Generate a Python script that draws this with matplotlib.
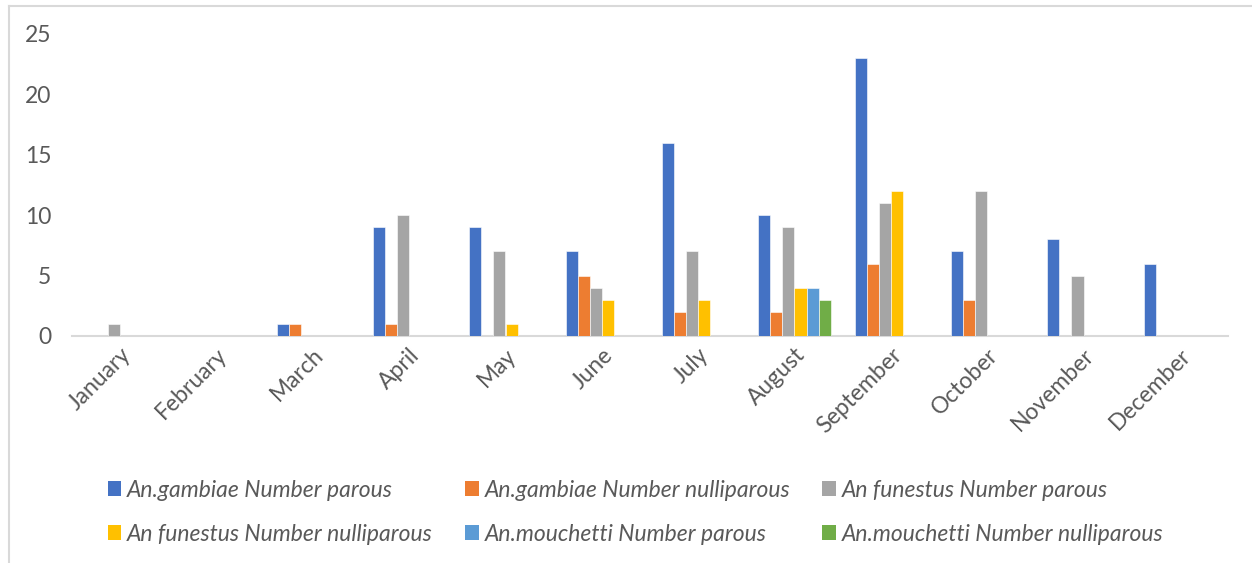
import numpy as np
import matplotlib
matplotlib.use("Agg")
import matplotlib.pyplot as plt
from matplotlib.lines import Line2D
from matplotlib.patches import Patch

# conteggi mensili di zanzare parous / nulliparous
mesi = ["January", "February", "March", "April", "May", "June", "July",
        "August", "September", "October", "November", "December"]

gambiae_parous = [0, 0, 1, 9, 9, 7, 16, 10, 23, 7, 8, 6]
gambiae_nulli = [0, 0, 1, 1, 0, 5, 2, 2, 6, 3, 0, 0]
funestus_parous = [1, 0, 0, 10, 7, 4, 7, 9, 11, 12, 5, 0]
funestus_nulli = [0, 0, 0, 0, 1, 3, 3, 4, 12, 0, 0, 0]
mouchetti_parous = [0, 0, 0, 0, 0, 0, 0, 4, 0, 0, 0, 0]
mouchetti_nulli = [0, 0, 0, 0, 0, 0, 0, 3, 0, 0, 0, 0]

serie = [gambiae_parous, gambiae_nulli, funestus_parous,
         funestus_nulli, mouchetti_parous, mouchetti_nulli]
nomi = ["An.gambiae Number parous", "An.gambiae Number nulliparous",
        "An funestus Number parous", "An funestus Number nulliparous",
        "An.mouchetti Number parous", "An.mouchetti Number nulliparous"]
colori = ["#4472C4", "#ED7D31", "#A5A5A5", "#FFC000", "#5B9BD5", "#70AD47"]

plt.rcParams["font.family"] = ["Lato", "DejaVu Sans"]
grigio = "#595959"

fig = plt.figure(figsize=(12.52, 5.63), dpi=100)
ax = fig.add_axes([72 / 1252, 1 - 336 / 563, (1228 - 72) / 1252, (336 - 34) / 563])

x = np.arange(len(mesi))
w = 1 / 8
for i in range(len(serie)):
    ax.bar(x + (i - 2.5) * w, serie[i], width=w, color=colori[i],
           edgecolor="white", linewidth=0.4, label=nomi[i])

ax.set_xlim(-0.5, len(mesi) - 0.5)
ax.set_ylim(0, 25)
ax.set_yticks([0, 5, 10, 15, 20, 25])
ax.set_xticks(x)
ax.set_xticklabels(mesi, rotation=45, ha="right", va="top",
                   rotation_mode="anchor", fontsize=16.5, color=grigio)
ax.tick_params(axis="y", length=0, pad=15, labelsize=16.5, labelcolor=grigio)
ax.tick_params(axis="x", length=0, pad=6)

for s in ["top", "right", "left"]:
    ax.spines[s].set_visible(False)
ax.spines["bottom"].set_color("#D9D9D9")
ax.spines["bottom"].set_linewidth(1.5)
ax.spines["bottom"].set_zorder(0.5)

# legenda su due righe, riempita per righe
maniglie = [Patch(facecolor=colori[i]) for i in range(6)]
ordine = [0, 3, 1, 4, 2, 5]
leg = fig.legend([maniglie[i] for i in ordine], [nomi[i] for i in ordine],
                 ncol=3, loc="upper left", bbox_to_anchor=(87 / 1252, 1 - 459 / 563),
                 frameon=False, handlelength=0.6, handleheight=0.6,
                 handletextpad=0.25, columnspacing=1.4, labelspacing=1.0,
                 prop={"style": "italic", "size": 16.5})
for t in leg.get_texts():
    t.set_color(grigio)

# cornice del grafico
fig.add_artist(Line2D([9 / 1252, 1], [1 - 6 / 563, 1 - 6 / 563],
                      color="#D9D9D9", linewidth=1.5))
fig.add_artist(Line2D([9 / 1252, 9 / 1252], [0, 1 - 6 / 563],
                      color="#D9D9D9", linewidth=1.5))

fig.savefig("out.png", dpi=100)
